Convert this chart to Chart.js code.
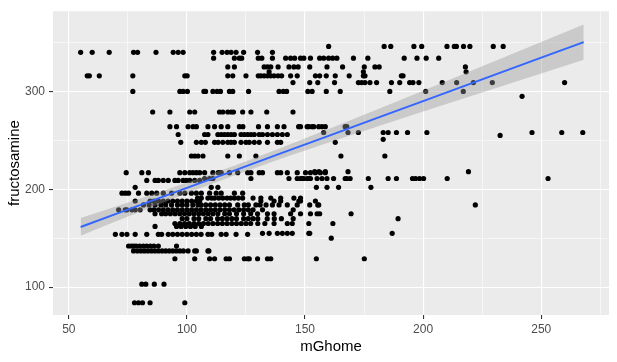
<!DOCTYPE html>
<html>
<head>
<meta charset="utf-8">
<script src="https://cdn.jsdelivr.net/npm/chart.js@4.4.0/dist/chart.umd.min.js"></script>
<style>
  body { margin: 0; background: #fff; }
  #wrap { width: 617px; height: 362px; }
</style>
</head>
<body>
<div id="wrap"><canvas id="fructChart" width="617" height="362"></canvas></div>
<script>
// fructosamine levels (rows) and the mGhome values seen on each row
const fructLevels = [346, 340, 334, 325, 320, 316, 309, 300, 295, 279, 264, 258, 256, 255, 251, 248, 234,
  218, 217, 211, 209, 202, 196, 191, 188, 184, 179, 175, 170, 165, 162, 155, 154, 150, 142, 137, 129, 103, 84];
const mGhomeRows = [
  [160, 183.5, 186.3, 196.1, 199.4, 210.1, 213.2, 214.1, 217.1, 219.8, 229.7, 233.9],
  [55, 59.9, 67.1, 77.4, 79.1, 86.9, 94.2, 96.3, 98.4, 111.3, 114.9, 117, 118.7, 120.8, 124, 129.9, 136.2],
  [111.3, 120.1, 122.2, 123.2, 130.2, 131.7, 136.2, 141.8, 143.9, 145.6, 148.1, 149.5, 152.3, 156.2, 157.9, 160, 161.7, 163.5, 170.5, 176.6, 192, 197.4, 201.3, 206.6],
  [117.3, 120.1, 132.7, 134.1, 135.5, 138.6, 143.2, 145.3, 147.1, 152, 159.3, 165.9, 175.1, 179.6, 181.4, 217.9],
  [134.8, 174.7, 218.2],
  [57.8, 58.7, 62.9, 77.1, 99.1, 100.1, 117.3, 119.4, 125, 130.2, 131.3, 132.7, 134.1, 135.5, 136.9, 138.6, 140.1, 143.9, 146.7, 154.4, 156.2, 159, 162.8, 168.7, 174.7, 175.4, 190.8, 191.5],
  [144.9, 152, 155.4, 162.5, 172.6, 174, 175.4, 177.5, 180.3, 186.6, 190.1, 194.3, 195.7, 198.2, 208.1, 214.2, 221.3, 229.3, 259.9],
  [77.1, 97, 98.4, 100.2, 107.2, 107.9, 111, 112.8, 114.2, 118, 119.4, 126.1, 139, 140.8, 142.2, 151.2, 153, 159, 164.9, 185.9, 201.1, 217],
  [241.9],
  [85.5, 92.8, 101.2, 103.3, 113.8, 115.2, 117.3, 118.7, 119.7, 123.6, 127.1, 133.8, 144.9],
  [92.8, 95.6, 100.5, 102.6, 104, 108.9, 111.7, 114.5, 117.3, 122.2, 123.7, 130.3, 134.1, 138.3, 141.1, 147.3, 148.1, 150.9, 151.6, 153, 153.7, 155.8, 157.2, 158.6, 167, 167.7],
  [157.9, 168.2, 172.6, 183.1, 185.2, 188.7, 193.4, 201.6, 246.1, 258.7, 267.6],
  [96.3, 107.5, 108.9, 113.1, 114.5, 115.9, 117.3, 118.7, 120.1, 122.9, 124.3, 125.7, 127.1, 128.5, 130.6, 132, 134.1, 136.2, 138.3, 140.4, 142.5],
  [232.6],
  [183.1],
  [97.4, 104, 106.1, 107.8, 111.7, 113.2, 115.2, 117.3, 118.7, 120.1, 122.9, 125, 126.4, 128.5, 130.6, 134.1, 138.3, 139.7, 162.8],
  [101.9, 103.3, 104.7, 106.8, 117.3, 122.2, 129.2, 165.2, 183.8],
  [154.1, 155.9, 158.6, 168.2, 219.2],
  [74.3, 80.9, 83.7, 97, 99.1, 101.2, 102.6, 104, 105.4, 107.5, 111, 113.3, 114.5, 118, 121.5, 125.7, 127.1, 130.6, 132, 138.3, 139.7, 142.5, 146.7, 150.2, 152.3, 154.4, 156.5, 158.6],
  [107.5, 109.6, 111, 127.1, 143.2, 146.7, 148.1, 148.8, 149.5, 150.9, 151.6, 152.3, 155.1, 157.2, 159.3, 162.1, 167, 167.7, 169.1, 176.8, 185.2, 188.7, 195.5, 196.8, 198.5, 200.2, 210.2, 252.9],
  [83, 86.5, 87.9, 90, 92.1, 94.9, 96.3, 98.4, 99.8, 101.2, 103.3, 105.4],
  [78.1, 110.3, 113.1, 154.8, 159.3, 164.2, 177.9],
  [72.5, 73.9, 75.3, 79.5, 83, 85.1, 87.2, 90, 93.5, 97, 99.1, 101.9, 104, 106.1, 109.6, 112.4, 114.5, 120.1, 123.6],
  [104.5, 106.1, 108.9, 110.5, 111.7, 113.5, 115.2, 117, 118.5, 120.1, 121.8, 123.6, 128, 131.3, 135.5, 139.7, 145.3, 148.1],
  [78.1, 84.4, 86, 88, 90, 92, 94, 96, 98, 100, 102, 104, 105.4, 131.3, 136.9, 139.7, 147.4, 148.1, 154.4],
  [81.6, 84, 86.5, 89, 91, 93.5, 96, 98, 100, 102.5, 104.7, 106, 108, 110, 112, 114, 116, 118, 121.5, 124.3, 126, 129.2, 131, 133.5, 136.2, 139, 142.5, 146.7, 152, 155.4, 155.8, 222.1],
  [71.1, 73.9, 74.6, 76.7, 78.1, 80.2, 84.4, 86, 88, 90, 92, 94, 96, 98, 100, 102, 104, 106, 108, 110, 112, 114, 116, 118, 120, 122, 124, 126, 128, 132, 145],
  [86.5, 89.3, 91, 93, 95, 97, 99, 101, 103, 105, 107, 109, 111, 113.1, 116, 118, 121, 124, 127, 129.9, 134.1, 136.9, 143.9, 148.1, 152.3, 155.1, 156.2, 169.5],
  [98, 100, 103, 105, 108, 110, 113, 115, 117, 119, 121, 124, 126, 128, 130, 134, 137, 140, 145, 189.4],
  [94.9, 97, 99, 101, 103, 105, 107, 109, 111, 113, 115, 117, 119, 121, 123, 125, 127, 130, 133, 136.9, 142.5, 144.6, 151.6, 161.8],
  [86.5, 95.6, 97.5, 99.5, 101.5, 103.5, 106.1],
  [132, 134.8, 138.3, 140.4, 142.5, 144.6, 151.6, 152, 186.9],
  [69.7, 72.5, 74.6, 78.1, 83, 87.9, 89.3, 92.1, 94, 96, 98, 100, 102, 104, 106, 108.9, 110.5, 114.5, 116.6, 120.8, 125.7],
  [161.1],
  [75.3, 76.5, 77.5, 78.5, 80, 81.5, 83, 84.5, 86, 87.9, 95.6],
  [77.4, 79, 80.5, 82, 83.5, 85, 86.5, 88, 89.5, 91, 92.5, 94, 95.5, 97, 98.5, 100.5, 103.3, 104, 108.9, 109.3],
  [94.9, 103.3, 109.6, 111.7, 116.6, 118, 124.3, 125.7, 126.4, 129.9, 134.1, 135.5, 154.8, 175.1],
  [80.9, 82.6, 86.2, 90.3],
  [77.8, 79.5, 81.2, 84.4, 99.1]
];

// linear smooth: fitted line and its 95% band
const smoothX = [55, 70, 85, 100, 120, 140, 160, 180, 200, 225, 250, 268];
const smoothY = [161.5, 174.8, 188.1, 201.4, 219.1, 236.9, 254.6, 272.4, 290.1, 312.3, 334.5, 350.4];
const smoothLo = [152.4, 167.2, 181.7, 195.9, 214.1, 231.4, 247.7, 263.7, 279.4, 298.9, 318.4, 332.3];
const smoothHi = [170.6, 182.4, 194.5, 206.9, 224.1, 242.4, 261.5, 281.1, 300.8, 325.7, 350.6, 368.5];

// axis ticks (majors get labels, minors only grid lines)
const xTicks = [50, 75, 100, 125, 150, 175, 200, 225, 250, 275];
const xMajor = [50, 100, 150, 200, 250];
const yTicks = [100, 150, 200, 250, 300, 350];
const yMajor = [100, 200, 300];

const points = [];
fructLevels.forEach((y, i) => {
  mGhomeRows[i].forEach(x => points.push({ x: x, y: y }));
});
const pairs = (xs, ys) => xs.map((x, i) => ({ x: x, y: ys[i] }));

const panelBg = {
  id: 'panelBg',
  beforeDraw(chart) {
    const { ctx, chartArea: a } = chart;
    ctx.save();
    ctx.fillStyle = '#EBEBEB';
    ctx.fillRect(a.left, a.top, a.right - a.left, a.bottom - a.top);
    ctx.restore();
  }
};

const gridFor = (major) => ({
  color: '#FFFFFF',
  lineWidth: c => (c.tick && major.includes(c.tick.value)) ? 1.1 : 0.55,
  tickLength: 4,
  tickWidth: 1.1,
  tickColor: c => (c.tick && major.includes(c.tick.value)) ? '#333333' : 'rgba(0,0,0,0)',
  drawTicks: true
});

const font = 'Liberation Sans';

new Chart(document.getElementById('fructChart'), {
  type: 'scatter',
  data: {
    datasets: [
      {
        label: 'fit', data: pairs(smoothX, smoothY), showLine: true,
        borderColor: '#3366FF', borderWidth: 2, pointRadius: 0, fill: false, order: 0
      },
      {
        label: 'lower', data: pairs(smoothX, smoothLo), showLine: true,
        borderColor: 'rgba(0,0,0,0)', borderWidth: 0, pointRadius: 0, fill: false, order: 1
      },
      {
        label: 'upper', data: pairs(smoothX, smoothHi), showLine: true,
        borderColor: 'rgba(0,0,0,0)', borderWidth: 0, pointRadius: 0,
        fill: 1, backgroundColor: 'rgba(153,153,153,0.4)', order: 1
      },
      {
        label: 'points', data: points, pointRadius: 2.6, pointBorderWidth: 0,
        pointBackgroundColor: '#000000', order: 3
      }
    ]
  },
  options: {
    responsive: false,
    animation: false,
    layout: { padding: { top: 7, right: 8, left: 0, bottom: 0 } },
    plugins: { legend: { display: false }, tooltip: { enabled: false } },
    scales: {
      x: {
        type: 'linear', min: 43.3, max: 278.7,
        afterBuildTicks: s => { s.ticks = xTicks.map(v => ({ value: v })); },
        afterFit: s => { s.height = 47; },
        ticks: {
          callback: v => xMajor.includes(v) ? String(v) : '',
          color: '#4D4D4D', font: { family: font, size: 12 }, padding: 3,
          maxRotation: 0, autoSkip: false
        },
        grid: gridFor(xMajor),
        border: { display: false },
        title: {
          display: true, text: 'mGhome', color: '#000000',
          font: { family: font, size: 15 }, padding: { top: 0, bottom: 6 }
        }
      },
      y: {
        type: 'linear', min: 71.5, max: 382,
        afterBuildTicks: s => { s.ticks = yTicks.map(v => ({ value: v })); },
        afterFit: s => { s.width = 53; },
        ticks: {
          callback: v => yMajor.includes(v) ? String(v) : '',
          color: '#4D4D4D', font: { family: font, size: 12 }, padding: 4,
          autoSkip: false
        },
        grid: gridFor(yMajor),
        border: { display: false },
        title: {
          display: true, text: 'fructosamine', color: '#000000',
          font: { family: font, size: 15 }, padding: { top: 6, bottom: 0 }
        }
      }
    }
  },
  plugins: [panelBg]
});
</script>
</body>
</html>
